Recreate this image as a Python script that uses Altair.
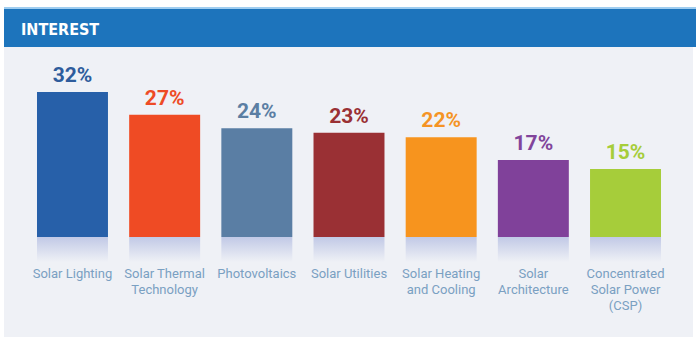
import altair as alt
import pandas as pd

categories = ["Solar Lighting", "Solar Thermal\nTechnology", "Photovoltaics", "Solar Utilities",
              "Solar Heating\nand Cooling", "Solar\nArchitecture", "Concentrated\nSolar Power\n(CSP)"]
values = [32, 27, 24, 23, 22, 17, 15]
value_labels = ["32%", "27%", "24%", "23%", "22%", "17%", "15%"]
bar_colors = ["#2760a9", "#ef4b24", "#5a7ea4", "#9a3034", "#f7941e", "#80419a", "#a6cd3a"]
label_colors = ["#2e5c9c", "#ee4b25", "#5b7ea3", "#9a3034", "#f59424", "#81449b", "#a6cd3a"]
title_text = ["INTEREST"]

df = pd.DataFrame({"cat": categories, "value": values, "label": value_labels,
                   "order": list(range(len(categories)))})

W, H = 700, 345
BG = "#eff1f6"

xs = alt.Scale(domain=categories, range=[26.4, 671.6], paddingInner=0.23, paddingOuter=0.115)
ys = alt.Scale(domain=[0, 32], range=[237, 92], nice=False, zero=True)
cs = alt.Scale(domain=categories, range=bar_colors)
ls = alt.Scale(domain=categories, range=label_colors)

one = pd.DataFrame({"t": title_text})

panel = alt.Chart(one).mark_rect(color=BG).encode(
    x=alt.value(4), x2=alt.value(693), y=alt.value(47), y2=alt.value(337))
bar_border = alt.Chart(one).mark_rect(color="#9fcdf0").encode(
    x=alt.value(4), x2=alt.value(696), y=alt.value(7), y2=alt.value(47))
title_bar = alt.Chart(one).mark_rect(color="#1d74bc").encode(
    x=alt.value(4), x2=alt.value(696), y=alt.value(9), y2=alt.value(47))
title = alt.Chart(one).mark_text(
    font="DejaVu Sans Condensed, DejaVu Sans, sans-serif", fontWeight="bold", fontSize=16,
    color="white", align="left", baseline="middle").encode(
    x=alt.value(21), y=alt.value(30), text="t:N")

base = alt.Chart(df)
x_enc = alt.X("cat:N", scale=xs, axis=None, sort=categories)

reflection = base.mark_bar(
    color=alt.Gradient(gradient="linear",
                       stops=[alt.GradientStop(color="#c1c9e6", offset=0),
                              alt.GradientStop(color=BG, offset=1)],
                       x1=0, x2=0, y1=0, y2=1)).encode(
    x=x_enc, y=alt.value(237), y2=alt.value(262))

bars = base.mark_bar().encode(
    x=x_enc,
    y=alt.Y("value:Q", scale=ys, axis=None),
    y2=alt.datum(0),
    color=alt.Color("cat:N", scale=cs, legend=None))

vals = base.mark_text(font="Roboto", fontWeight="bold", fontSize=21, baseline="alphabetic",
                      dy=-10).encode(
    x=alt.X("cat:N", scale=xs, axis=None, sort=categories, bandPosition=0.5),
    y=alt.Y("value:Q", scale=ys, axis=None),
    text="label:N",
    color=alt.Color("cat:N", scale=ls, legend=None))

cats = base.mark_text(font="Roboto", fontSize=13, baseline="top", lineBreak="\n",
                      lineHeight=16, color="#7aa0c2").encode(
    x=alt.X("cat:N", scale=xs, axis=None, sort=categories, bandPosition=0.5),
    y=alt.value(268),
    text="cat:N")

chart = alt.layer(panel, bar_border, title_bar, title, reflection, bars, vals, cats).resolve_scale(
    color="independent").properties(
    width=W, height=H, autosize=alt.AutoSizeParams(type="none"), padding=0,
    background="white").configure_view(stroke=None)

chart.save("out.html", embed_options={"renderer": "svg", "actions": False})
